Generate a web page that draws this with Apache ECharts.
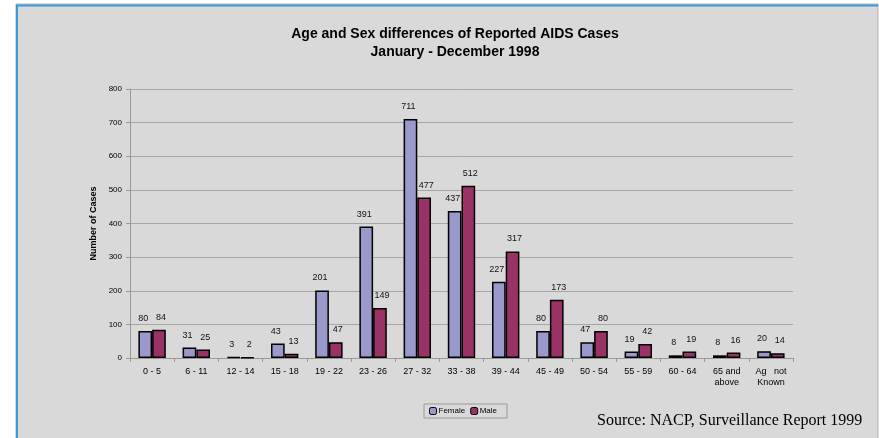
<!DOCTYPE html>
<html>
<head>
<meta charset="utf-8">
<script src="https://cdn.jsdelivr.net/npm/echarts@6/dist/echarts.min.js"></script>
<style>
  html, body { margin: 0; padding: 0; background: #fff; }
  #main { width: 879px; height: 438px; }
</style>
</head>
<body>
<div id="main"></div>
<script>
// age groups
var ageGroups = ['0 - 5', '6 - 11', '12 - 14', '15 - 18', '19 - 22', '23 - 26', '27 - 32', '33 - 38',
    '39 - 44', '45 - 49', '50 - 54', '55 - 59', '60 - 64', '65 and\nabove', 'Ag   not\nKnown'];
var female = [80, 31, 3, 43, 201, 391, 711, 437, 227, 80, 47, 19, 8, 8, 20];
var male = [84, 25, 2, 13, 47, 149, 477, 512, 317, 173, 80, 42, 19, 16, 14];
var yTicks = [0, 100, 200, 300, 400, 500, 600, 700, 800];

var FONT = 'Liberation Sans, Arial, sans-serif';

function barLabel(dx) {
    return {
        show: true,
        position: 'top',
        distance: 8,
        offset: [dx, 0],
        color: '#111',
        fontSize: 9,
        fontFamily: FONT
    };
}

var option = {
    backgroundColor: '#fff',
    animation: false,
    title: {
        text: 'Age and Sex differences of Reported AIDS Cases\nJanuary - December 1998',
        left: 450,
        textAlign: 'center',
        top: 20,
        textStyle: {
            color: '#000',
            fontSize: 14,
            fontWeight: 'bold',
            fontFamily: FONT,
            lineHeight: 18
        }
    },
    graphic: [
        {   // panel
            type: 'rect',
            z: -10,
            shape: { x: 16, y: 4, width: 862, height: 440 },
            style: { fill: '#d9d9d9', stroke: '#b0b0b0', lineWidth: 1 }
        },
        {   // blue edge top
            type: 'line',
            z: -9,
            shape: { x1: 16, y1: 5.5, x2: 878, y2: 5.5 },
            style: { stroke: '#3a9ad9', lineWidth: 2 }
        },
        {   // blue edge left
            type: 'line',
            z: -9,
            shape: { x1: 17, y1: 5, x2: 17, y2: 438 },
            style: { stroke: '#3a9ad9', lineWidth: 2 }
        },
        {
            type: 'text',
            left: 597,
            top: 413,
            style: {
                text: 'Source: NACP, Surveillance Report 1999',
                fill: '#000',
                fontSize: 16,
                fontFamily: 'Liberation Serif, DejaVu Serif, serif'
            }
        }
    ],
    legend: {
        left: 424,
        top: 404,
        itemWidth: 7,
        itemHeight: 7,
        itemGap: 5,
        padding: [3, 10, 3, 5],
        borderColor: '#999',
        borderWidth: 1,
        textStyle: { fontSize: 8, color: '#000', fontFamily: FONT, padding: [0, 0, 0, -3] },
        data: [
            { name: 'Female', itemStyle: { color: '#9999cc', borderColor: '#000', borderWidth: 1 } },
            { name: 'Male', itemStyle: { color: '#993366', borderColor: '#000', borderWidth: 1 } }
        ]
    },
    grid: {
        left: 130,
        right: 86,
        top: 89,
        bottom: 80
    },
    xAxis: {
        type: 'category',
        data: ageGroups,
        axisLine: { lineStyle: { color: '#999', width: 1 } },
        axisTick: { show: true, length: 4, lineStyle: { color: '#999' } },
        axisLabel: {
            color: '#000',
            fontSize: 9,
            fontFamily: FONT,
            margin: 8,
            interval: 0,
            lineHeight: 11
        }
    },
    yAxis: {
        type: 'value',
        min: yTicks[0],
        max: yTicks[yTicks.length - 1],
        interval: 100,
        name: 'Number of Cases',
        nameLocation: 'middle',
        nameGap: 27,
        nameTextStyle: { color: '#000', fontSize: 9, fontWeight: 'bold', fontFamily: FONT },
        axisLine: { show: true, lineStyle: { color: '#999' } },
        axisTick: { show: true, length: 4, lineStyle: { color: '#999' } },
        axisLabel: { color: '#000', fontSize: 8, fontFamily: FONT, margin: 8 },
        splitLine: { lineStyle: { color: '#a6a6a6', width: 1 } }
    },
    series: [
        {
            name: 'Female',
            type: 'bar',
            data: female,
            barGap: '0%',
            barCategoryGap: '38%',
            itemStyle: { color: '#9999cc', borderColor: '#000', borderWidth: 1.5 },
            label: barLabel(-2)
        },
        {
            name: 'Male',
            type: 'bar',
            data: male,
            itemStyle: { color: '#993366', borderColor: '#000', borderWidth: 1.5 },
            label: barLabel(2)
        }
    ]
};

var echart = echarts.init(document.getElementById('main'));
echart.setOption(option);
</script>
</body>
</html>
